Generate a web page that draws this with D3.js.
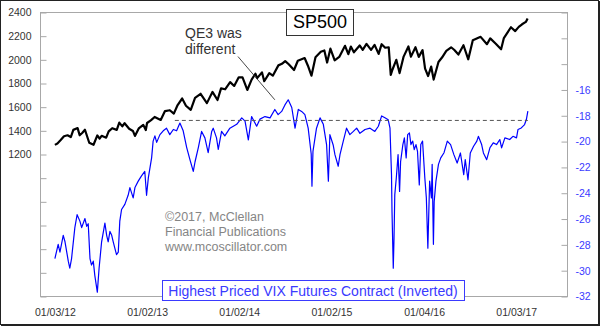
<!DOCTYPE html>
<html>
<head>
<meta charset="utf-8">
<script src="https://cdn.jsdelivr.net/npm/d3@7"></script>
<style>
    body { margin: 0; background: #ffffff; }
    svg { display: block; font-family: "Liberation Sans", Arial, sans-serif; }
</style>
</head>
<body>
<svg id="chart"></svg>
<script>
// DATA
var sp500 = [
    ["2012-01-03",1277],["2012-01-13",1289],["2012-01-26",1318],["2012-02-08",1350],["2012-02-22",1358],
    ["2012-03-06",1343],["2012-03-16",1404],["2012-04-02",1419],["2012-04-10",1358],["2012-04-20",1378],
    ["2012-05-01",1405],["2012-05-18",1295],["2012-06-04",1278],["2012-06-19",1357],["2012-06-28",1330],
    ["2012-07-06",1354],["2012-07-24",1338],["2012-08-03",1391],["2012-08-17",1418],["2012-09-04",1404],
    ["2012-09-14",1465],["2012-09-26",1433],["2012-10-05",1460],["2012-10-23",1413],["2012-11-07",1395],
    ["2012-11-15",1353],["2012-11-30",1416],["2012-12-18",1446],["2012-12-28",1402],
    ["2013-01-02",1462],["2013-01-18",1486],["2013-02-01",1513],["2013-02-25",1488],["2013-03-14",1563],
    ["2013-04-02",1570],["2013-04-18",1541],["2013-05-03",1614],["2013-05-21",1669],["2013-06-05",1608],
    ["2013-06-24",1573],["2013-07-11",1675],["2013-08-02",1709],["2013-08-27",1630],["2013-09-18",1725],
    ["2013-10-08",1656],["2013-10-22",1754],["2013-11-07",1747],["2013-11-27",1807],["2013-12-13",1775],
    ["2013-12-31",1848],
    ["2014-01-15",1848],["2014-02-03",1741],["2014-02-20",1828],["2014-03-07",1878],["2014-03-14",1841],
    ["2014-04-02",1890],["2014-04-11",1815],["2014-05-01",1883],["2014-05-15",1862],["2014-06-06",1949],
    ["2014-06-20",1962],["2014-07-03",1985],["2014-07-17",1958],["2014-08-07",1910],["2014-08-22",1988],
    ["2014-09-18",2011],["2014-10-01",1946],["2014-10-15",1862],["2014-10-31",2018],["2014-11-21",2064],
    ["2014-12-05",2075],["2014-12-16",1973],["2014-12-29",2090],
    ["2015-01-15",1992],["2015-02-02",2020],["2015-02-25",2114],["2015-03-10",2044],["2015-03-20",2108],
    ["2015-04-01",2060],["2015-04-24",2117],["2015-05-06",2080],["2015-05-21",2131],["2015-06-08",2080],
    ["2015-06-22",2122],["2015-07-08",2046],["2015-07-20",2128],["2015-08-03",2098],["2015-08-17",2102],
    ["2015-08-25",1868],["2015-09-01",1914],["2015-09-16",1996],["2015-09-29",1884],["2015-10-15",2023],
    ["2015-11-03",2109],["2015-11-13",2023],["2015-12-01",2102],["2015-12-14",2021],["2015-12-29",2078],
    ["2016-01-08",1922],["2016-01-20",1859],["2016-02-01",1939],["2016-02-11",1829],["2016-03-01",1978],
    ["2016-03-15",2015],["2016-04-01",2072],["2016-04-20",2102],["2016-05-02",2081],["2016-05-19",2040],
    ["2016-06-08",2119],["2016-06-27",2000],["2016-07-15",2161],["2016-08-15",2190],["2016-09-09",2128],
    ["2016-09-22",2177],["2016-10-14",2132],["2016-11-04",2085],["2016-11-15",2180],["2016-12-13",2271],
    ["2016-12-30",2239],
    ["2017-01-13",2274],["2017-01-26",2296],["2017-02-10",2316],["2017-02-17",2345]
];

// highest priced VIX futures contract, already inverted
var vixInv = [
    ["2012-01-03",-29.1],["2012-01-16",-28.0],["2012-01-23",-28.6],["2012-02-05",-27.3],["2012-02-12",-27.8],
    ["2012-02-25",-29.3],["2012-03-02",-29.85],["2012-03-09",-29.1],["2012-03-22",-26.7],["2012-03-31",-25.7],
    ["2012-04-11",-26.2],["2012-04-18",-26.7],["2012-05-01",-26.0],["2012-05-08",-26.6],["2012-05-14",-26.4],
    ["2012-05-21",-29.1],["2012-05-27",-29.6],["2012-06-03",-29.3],["2012-06-09",-30.4],["2012-06-19",-31.7],
    ["2012-06-26",-29.85],["2012-07-06",-27.8],["2012-07-19",-26.35],["2012-07-26",-27.3],["2012-08-01",-27.8],
    ["2012-08-08",-27.0],["2012-08-15",-27.3],["2012-08-21",-27.8],["2012-09-03",-28.8],["2012-09-10",-28.6],
    ["2012-09-16",-26.2],["2012-09-23",-25.3],["2012-10-06",-24.9],["2012-10-19",-24.2],["2012-10-26",-23.6],
    ["2012-11-08",-24.4],["2012-11-15",-23.6],["2012-11-28",-23.1],["2012-12-11",-22.7],["2012-12-24",-22.35],
    ["2012-12-31",-24.2],
    ["2013-01-07",-22.85],["2013-01-20",-21.3],["2013-01-26",-20.0],["2013-02-02",-19.6],["2013-02-09",-20.1],
    ["2013-02-22",-19.5],["2013-03-07",-19.2],["2013-03-20",-19.0],["2013-04-02",-19.5],["2013-04-16",-19.1],
    ["2013-04-29",-19.2],["2013-05-12",-18.6],["2013-05-25",-19.2],["2013-06-08",-20.5],["2013-06-21",-21.45],
    ["2013-07-04",-22.35],["2013-07-11",-21.6],["2013-07-24",-20.5],["2013-08-06",-19.25],["2013-08-19",-19.75],
    ["2013-09-01",-20.9],["2013-09-15",-19.25],["2013-09-21",-19.0],["2013-10-04",-19.75],["2013-10-11",-20.65],
    ["2013-10-24",-19.25],["2013-11-06",-19.6],["2013-11-26",-19.0],["2013-12-23",-18.7],
    ["2014-01-12",-18.2],["2014-01-25",-18.45],["2014-02-07",-19.9],["2014-02-20",-18.1],["2014-03-12",-18.85],
    ["2014-03-25",-18.3],["2014-04-14",-18.1],["2014-05-04",-18.2],["2014-05-23",-17.55],["2014-06-05",-17.95],
    ["2014-06-19",-17.7],["2014-07-02",-17.2],["2014-07-15",-16.8],["2014-07-29",-17.4],["2014-08-11",-19.0],
    ["2014-08-24",-17.55],["2014-09-06",-17.7],["2014-09-19",-17.95],["2014-10-02",-19.0],["2014-10-14",-21.0],
    ["2014-10-17",-23.5],["2014-10-21",-20.8],["2014-11-04",-19.0],["2014-11-18",-18.2],["2014-12-01",-18.7],
    ["2014-12-14",-20.3],["2014-12-21",-23.1],["2014-12-27",-19.5],
    ["2015-01-09",-20.3],["2015-01-16",-21.05],["2015-01-29",-21.95],["2015-02-05",-21.05],["2015-02-18",-20.0],
    ["2015-03-03",-19.0],["2015-03-16",-19.5],["2015-03-30",-19.25],["2015-04-12",-19.0],["2015-04-25",-19.4],
    ["2015-05-15",-19.1],["2015-06-04",-19.0],["2015-06-23",-19.25],["2015-07-07",-18.85],["2015-07-20",-18.05],
    ["2015-08-02",-18.2],["2015-08-15",-18.35],["2015-08-22",-19.0],["2015-08-28",-22.6],["2015-08-30",-25.45],
    ["2015-09-04",-29.85],["2015-09-07",-27.5],["2015-09-10",-24.15],["2015-09-16",-22.86],["2015-09-23",-21.05],
    ["2015-09-29",-23.9],["2015-10-03",-21.6],["2015-10-12",-20.27],["2015-10-18",-19.75],["2015-10-25",-21.3],
    ["2015-10-31",-19.5],["2015-11-07",-19.37],["2015-11-13",-20.27],["2015-11-20",-20.0],["2015-11-26",-20.66],
    ["2015-12-03",-20.27],["2015-12-09",-20.8],["2015-12-16",-23.4],["2015-12-22",-20.27],["2015-12-29",-20.0],
    ["2016-01-07",-22.86],["2016-01-13",-24.4],["2016-01-19",-28.3],["2016-01-26",-23.1],["2016-02-02",-24.4],
    ["2016-02-05",-21.8],["2016-02-10",-28.0],["2016-02-13",-24.7],["2016-02-20",-23.1],["2016-03-01",-21.8],
    ["2016-03-10",-21.3],["2016-03-23",-20.9],["2016-04-05",-20.0],["2016-04-18",-20.27],["2016-05-01",-21.05],
    ["2016-05-14",-21.7],["2016-05-27",-20.92],["2016-06-09",-22.6],["2016-06-15",-21.44],["2016-06-26",-23.0],
    ["2016-07-05",-20.92],["2016-07-18",-20.4],["2016-07-31",-20.0],["2016-08-06",-19.63],["2016-08-19",-20.27],
    ["2016-08-26",-20.92],["2016-09-08",-21.44],["2016-09-21",-20.5],["2016-10-04",-20.14],["2016-10-17",-20.27],
    ["2016-10-30",-19.88],["2016-11-06",-20.53],["2016-11-19",-19.75],["2016-12-08",-19.88],["2016-12-21",-19.63],
    ["2017-01-04",-19.75],["2017-01-10",-19.1],["2017-01-23",-18.98],["2017-02-05",-18.72],["2017-02-12",-18.33],
    ["2017-02-18",-17.68]
];

var xTickDates = ["2012-01-03","2013-01-02","2014-01-02","2015-01-02","2016-01-04","2017-01-03"];
var leftTicks = [0,200,400,600,800,1000,1200,1400,1600,1800,2000,2200,2400];
var leftLabelled = [1200,1400,1600,1800,2000,2200,2400];
var rightTicks = [-32,-30,-28,-26,-24,-22,-20,-18,-16,-14,-12,-10];
var rightLabelled = [-32,-30,-28,-26,-24,-22,-20,-18,-16];

// the dashed reference level (2013 high of the inverted VIX line)
var refLevel = -18.4;
var refStart = "2013-04-22";
var refEnd = "2017-02-18";

// annotation arrow, in dates and right axis values
var noteTail = ["2013-12-28", -13.45];
var noteTip = ["2014-05-23", -16.8];
var noteLines = ["QE3 was", "different"];
var creditLines = ["\u00a92017, McClellan", "Financial Publications", "www.mcoscillator.com"];
var titleText = "SP500";
var legendText = "Highest Priced VIX Futures Contract (Inverted)";

var color_black = "#000000";
var color_blue = "#0000ff";
var color_label_blue = "#3a3aff";
var color_frame = "#a8a8a8";
var color_text = "#333333";

// SETUP
var width = 600, height = 326,
    margin = { top: 12, right: 33, bottom: 30, left: 40 },
    plotW = width - margin.left - margin.right,
    plotH = height - margin.top - margin.bottom;

var parse = d3.timeParse("%Y-%m-%d");

var svg = d3.select("#chart")
    .attr("width", width)
    .attr("height", height);

var x = d3.scaleTime()
    .domain([parse("2011-11-05"), parse("2017-07-23")])
    .range([0, plotW]);
var yLeft = d3.scaleLinear().domain([0, 2400]).range([plotH, 0]);
var yRight = d3.scaleLinear().domain([-32, -10]).range([plotH, 0]);

var g = svg.append("g").attr("transform", "translate(" + margin.left + "," + margin.top + ")");

// frame
g.append("rect")
    .attr("x", 0.5).attr("y", 0.5)
    .attr("width", plotW).attr("height", plotH)
    .attr("fill", "none")
    .attr("stroke", color_frame);

// AXES
var leftAxis = d3.axisLeft(yLeft)
    .tickValues(leftTicks)
    .tickSize(-6)
    .tickPadding(9)
    .tickFormat(function (d) { return leftLabelled.indexOf(d) >= 0 ? String(d) : ""; });

var rightAxis = d3.axisRight(yRight)
    .tickValues(rightTicks)
    .tickSize(-6)
    .tickPadding(8)
    .tickFormat(function (d) { return rightLabelled.indexOf(d) >= 0 ? String(d) : ""; });

var bottomAxis = d3.axisBottom(x)
    .tickValues(xTickDates.map(parse))
    .tickSize(0)
    .tickPadding(13)
    .tickFormat(d3.timeFormat("%m/%d/%y"));

var gl = g.append("g").attr("transform", "translate(0.5,0.5)").call(leftAxis);
var gr = g.append("g").attr("transform", "translate(" + (plotW + 0.5) + ",0.5)").call(rightAxis);
var gb = g.append("g").attr("transform", "translate(0," + plotH + ")").call(bottomAxis);

[gl, gr, gb].forEach(function (a) {
    a.select(".domain").remove();
    a.selectAll(".tick line").attr("stroke", color_frame);
    a.selectAll("text").attr("font-family", "Liberation Sans, Arial, sans-serif").attr("font-size", "10.5px");
});
gl.selectAll("text").attr("fill", color_text);
gb.selectAll("text").attr("fill", color_text);
gr.selectAll("text").attr("fill", color_label_blue);

// LINES
var vixLine = d3.line()
    .x(function (d) { return x(parse(d[0])); })
    .y(function (d) { return yRight(d[1]); });

var spLine = d3.line()
    .x(function (d) { return x(parse(d[0])); })
    .y(function (d) { return yLeft(d[1]); });

g.append("path")
    .datum(vixInv)
    .attr("d", vixLine)
    .attr("fill", "none")
    .attr("stroke", color_blue)
    .attr("stroke-width", 1.2)
    .attr("stroke-linejoin", "round");

g.append("path")
    .datum([[refStart, refLevel], [refEnd, refLevel]])
    .attr("d", vixLine)
    .attr("fill", "none")
    .attr("stroke", "#555555")
    .attr("stroke-width", 1)
    .attr("stroke-dasharray", "4,3");

g.append("path")
    .datum(sp500)
    .attr("d", spLine)
    .attr("fill", "none")
    .attr("stroke", color_black)
    .attr("stroke-width", 2.2)
    .attr("stroke-linejoin", "round");

// ANNOTATION
g.append("line")
    .attr("x1", x(parse(noteTail[0]))).attr("y1", yRight(noteTail[1]))
    .attr("x2", x(parse(noteTip[0]))).attr("y2", yRight(noteTip[1]))
    .attr("stroke", "#333333")
    .attr("stroke-width", 0.9);

svg.append("text")
    .attr("x", 185).attr("y", 38)
    .attr("font-size", "14px")
    .attr("fill", color_text)
    .selectAll("tspan")
    .data(noteLines)
    .enter().append("tspan")
    .attr("x", 185)
    .attr("dy", function (d, i) { return i === 0 ? 0 : 16; })
    .text(function (d) { return d; });

// credit
svg.append("text")
    .attr("x", 165).attr("y", 220.5)
    .attr("font-size", "12.5px")
    .attr("fill", "#858585")
    .selectAll("tspan")
    .data(creditLines)
    .enter().append("tspan")
    .attr("x", 165)
    .attr("dy", function (d, i) { return i === 0 ? 0 : 15; })
    .text(function (d) { return d; });

// title box
svg.append("rect")
    .attr("x", 286.5).attr("y", 9.5)
    .attr("width", 67).attr("height", 26)
    .attr("fill", "#ffffff")
    .attr("stroke", "#333333");
svg.append("text")
    .attr("x", 320).attr("y", 28)
    .attr("text-anchor", "middle")
    .attr("font-size", "18px")
    .attr("fill", color_black)
    .text(titleText);

// legend box
svg.append("rect")
    .attr("x", 162.5).attr("y", 280.5)
    .attr("width", 302).attr("height", 20)
    .attr("fill", "#ffffff")
    .attr("stroke", color_label_blue);
svg.append("text")
    .attr("x", 313).attr("y", 295.5)
    .attr("text-anchor", "middle")
    .attr("font-size", "14px")
    .attr("fill", color_label_blue)
    .text(legendText);

// outer border
svg.append("rect")
    .attr("x", 0.5).attr("y", 0.5)
    .attr("width", width - 2).attr("height", height - 2)
    .attr("fill", "none")
    .attr("stroke", "#222222");
svg.append("line")
    .attr("x1", width - 0.5).attr("y1", 1).attr("x2", width - 0.5).attr("y2", height)
    .attr("stroke", "#222222");
svg.append("line")
    .attr("x1", 1).attr("y1", height - 0.5).attr("x2", width).attr("y2", height - 0.5)
    .attr("stroke", "#222222");
</script>
</body>
</html>
